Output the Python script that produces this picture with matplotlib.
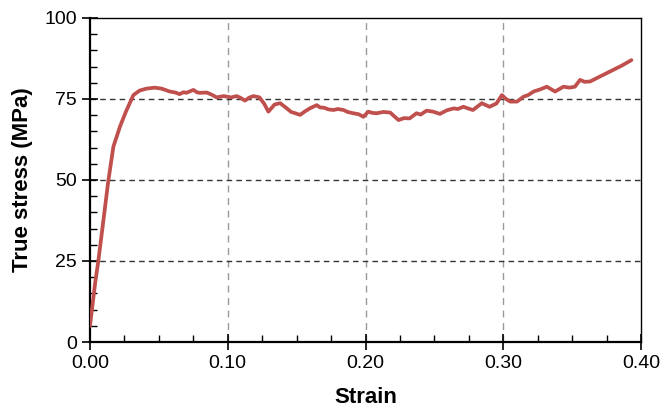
import matplotlib
matplotlib.use("Agg")
import matplotlib.pyplot as plt
from matplotlib.ticker import MultipleLocator, FormatStrFormatter

plt.rcParams['font.family'] = ['Liberation Sans', 'DejaVu Sans']

# 读图得到的应变-应力数据
strain = [0.000, 0.002, 0.004, 0.006, 0.009, 0.0133, 0.017, 0.0218, 0.026, 0.0315,
          0.036, 0.041, 0.047, 0.052, 0.058, 0.062, 0.065, 0.068, 0.070, 0.075,
          0.078, 0.080, 0.0847, 0.088, 0.092, 0.097, 0.1025, 0.1065, 0.1095, 0.1125,
          0.1155, 0.1186, 0.123, 0.1265, 0.1295, 0.134, 0.138, 0.142, 0.146, 0.149,
          0.1525, 0.1565, 0.160, 0.1646, 0.167, 0.170, 0.173, 0.1766, 0.180, 0.184,
          0.187, 0.191, 0.195, 0.1985, 0.202, 0.205, 0.208, 0.213, 0.218, 0.221,
          0.224, 0.228, 0.232, 0.237, 0.240, 0.2444, 0.249, 0.254, 0.259, 0.264,
          0.267, 0.271, 0.275, 0.278, 0.2844, 0.29, 0.295, 0.299, 0.302, 0.305,
          0.31, 0.3146, 0.318, 0.322, 0.327, 0.3316, 0.3376, 0.3437, 0.348, 0.352,
          0.3557, 0.359, 0.363, 0.370, 0.378, 0.386, 0.393]
stress = [5.0, 12.0, 19.0, 24.8, 35.0, 49.7, 60.3, 66.5, 71.0, 76.2,
          77.6, 78.2, 78.5, 78.2, 77.3, 77.0, 76.5, 77.1, 76.9, 77.8,
          77.0, 76.9, 77.0, 76.4, 75.5, 75.9, 75.5, 75.9, 75.3, 74.5,
          75.4, 75.9, 75.5, 73.5, 71.1, 73.3, 73.7, 72.4, 71.0, 70.6,
          70.1, 71.3, 72.2, 73.1, 72.4, 72.3, 71.8, 71.6, 71.9, 71.6,
          71.0, 70.6, 70.3, 69.5, 71.1, 70.7, 70.6, 71.0, 70.8, 69.6,
          68.5, 69.1, 69.0, 70.6, 70.2, 71.4, 71.1, 70.4, 71.5, 72.1,
          71.9, 72.6, 72.0, 71.6, 73.7, 72.6, 73.6, 76.2, 75.0, 74.2,
          74.2, 75.7, 76.2, 77.3, 78.0, 78.8, 77.3, 78.8, 78.5, 78.8,
          80.9, 80.3, 80.4, 81.9, 83.6, 85.3, 87.0]

x_ticks = [0.0, 0.1, 0.2, 0.3, 0.4]
y_ticks = [0, 25, 50, 75, 100]

fig = plt.figure(figsize=(6.65, 4.07), dpi=100)
ax = fig.add_axes([0.1353, 0.1597, 0.8287, 0.7961])

# 网格线
for xv in x_ticks[1:-1]:
    ax.axvline(xv, color='#9a9a9a', ls=(0, (5, 4)), lw=1.0, zorder=1)
for yv in y_ticks[1:-1]:
    ax.axhline(yv, color='#333333', ls=(0, (4, 3)), lw=1.0, zorder=1)

ax.plot(strain, stress, color='#c0504d', lw=2.7, solid_capstyle='round',
        solid_joinstyle='round', zorder=3)

ax.set_xlim(0, 0.40)
ax.set_ylim(0, 100)
ax.set_xticks(x_ticks)
ax.set_yticks(y_ticks)
ax.xaxis.set_major_formatter(FormatStrFormatter('%.2f'))
ax.xaxis.set_minor_locator(MultipleLocator(0.025))
ax.yaxis.set_minor_locator(MultipleLocator(5))
ax.tick_params(which='major', direction='inout', length=11, width=1.2, labelsize=14, pad=4)
ax.tick_params(which='minor', direction='in', length=5, width=1.0)
ax.tick_params(top=False, right=False)

for side in ['left', 'bottom']:
    ax.spines[side].set_linewidth(1.6)
for side in ['top', 'right']:
    ax.spines[side].set_linewidth(1.0)

ax.set_xlabel('Strain', fontsize=16, fontweight='bold', labelpad=11)
ax.set_ylabel('True stress (MPa)', fontsize=16, fontweight='bold', labelpad=8)

fig.savefig('out.png', dpi=100)
